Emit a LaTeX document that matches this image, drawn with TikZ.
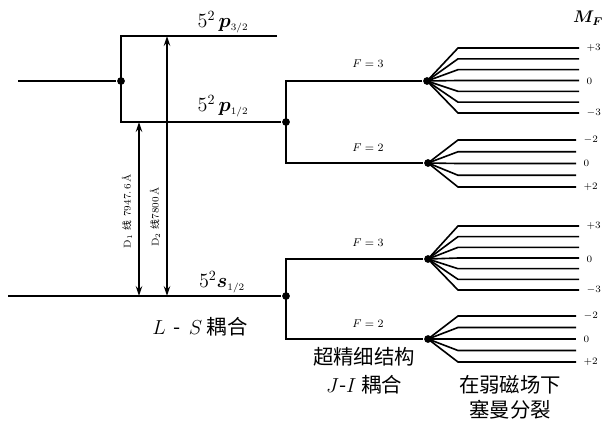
\documentclass[tikz,border=0pt]{standalone}
\usepackage{fontspec}
\usepackage{amsmath,bm}
\newfontfamily\cjk{Noto Sans CJK SC}
\usetikzlibrary{arrows.meta}
\tikzset{
  dot/.style={circle, fill, inner sep=0pt, minimum size=5.5pt},
  lvl/.style={font=\Large},
  flabel/.style={font=\footnotesize},
  mlabel/.style={font=\scriptsize, anchor=west},
  cjklabel/.style={font=\cjk\fontsize{14.5}{17}\selectfont}
}
\begin{document}
\begin{tikzpicture}[x=0.025cm, y=-0.025cm, >={Stealth[length=7pt,width=4.5pt]}, line width=1.15pt]
	\useasboundingbox (0,0) rectangle (602,422);
	% fine structure
	\coordinate (p) at (18,81);
	\node[dot] (pd) at (121,81) {};
	\coordinate (p32a) at (121,36);
	\coordinate (p32b) at (277,36);
	\coordinate (p12a) at (121,122);
	\node[dot] (p12d) at (286,122) {};
	\coordinate (s) at (8,296);
	\node[dot] (sd) at (286,296) {};
	\draw (p) -- (pd);
	\draw (p32b) -- (p32a) -- (p12a) -- (p12d);
	\draw (s) -- (sd);
	% hyperfine
	\coordinate (hp3) at (286,81);
	\coordinate (hp2) at (286,163);
	\coordinate (hs3) at (286,259);
	\coordinate (hs2) at (286,339);
	\node[dot] (zp3) at (427,81) {};
	\node[dot] (zp2) at (428,163) {};
	\node[dot] (zs3) at (428,259) {};
	\node[dot] (zs2) at (428,339) {};
	\draw (zp3) -- (hp3) -- (hp2) -- (zp2);
	\draw (zs3) -- (hs3) -- (hs2) -- (zs2);
	% Zeeman
	\foreach \k [evaluate=\k as \yy using 48+10.83*\k] in {0,...,6}
		\draw (zp3.center) -- (458,\yy) -- (579,\yy);
	\foreach \k [evaluate=\k as \yy using 140+11.75*\k] in {0,...,4}
		\draw (zp2.center) -- (458,\yy) -- (576,\yy);
	\foreach \k [evaluate=\k as \yy using 226+10.67*\k] in {0,...,6}
		\draw (zs3.center) -- (458,\yy) -- (579,\yy);
	\foreach \k [evaluate=\k as \yy using 316+11.5*\k] in {0,...,4}
		\draw (zs2.center) -- (458,\yy) -- (576,\yy);
	% D lines
	\coordinate (d1t) at (139,122);
	\coordinate (d1b) at (139,296);
	\coordinate (d2t) at (167,36);
	\coordinate (d2b) at (167,296);
	\draw[<->] (d1t) -- (d1b);
	\draw[<->] (d2t) -- (d2b);
	\node[rotate=90, font=\scriptsize] (d1l) at (127,211) {D$_1$ {\cjk 线} 7947.\,6\,Å};
	\node[rotate=90, font=\scriptsize] (d2l) at (155,217) {D$_2$ {\cjk 线}7800\,Å};
	% labels
	\node[lvl] (l32) at (223,22) {$5^{2}\,\bm{p}_{\scriptscriptstyle 3/2}$};
	\node[lvl] (l12) at (223,106) {$5^{2}\,\bm{p}_{\scriptscriptstyle 1/2}$};
	\node[lvl] (ls) at (222,282) {$5^{2}\bm{s}_{\scriptscriptstyle 1/2}$};
	\node[flabel] (f3p) at (368,64) {$F = 3$};
	\node[flabel] (f2p) at (368,148) {$F = 2$};
	\node[flabel] (f3s) at (368,243) {$F = 3$};
	\node[flabel] (f2s) at (368,324) {$F = 2$};
	\node[font=\large] (mf) at (588,18) {$\bm{M_F}$};
	\node[mlabel] at (581,48) {$+3$};
	\node[mlabel] at (581,81) {$0$};
	\node[mlabel] at (581,113) {$-3$};
	\node[mlabel] at (578,140) {$-2$};
	\node[mlabel] at (578,163) {$0$};
	\node[mlabel] at (578,187) {$+2$};
	\node[mlabel] at (581,226) {$+3$};
	\node[mlabel] at (581,259) {$0$};
	\node[mlabel] at (581,290) {$-3$};
	\node[mlabel] at (578,316) {$-2$};
	\node[mlabel] at (578,339) {$0$};
	\node[mlabel] at (578,362) {$+2$};
	\node[cjklabel] (ls1) at (200,327) {$L$ \,-\, $S$ 耦合};
	\node[cjklabel] (hf1) at (364,357) {超精细结构};
	\node[cjklabel] (hf2) at (364,385) {$J$-$I$ 耦合};
	\node[cjklabel] (ze1) at (510,385) {在弱磁场下};
	\node[cjklabel] (ze2) at (510,410) {塞曼分裂};
\end{tikzpicture}
\end{document}
